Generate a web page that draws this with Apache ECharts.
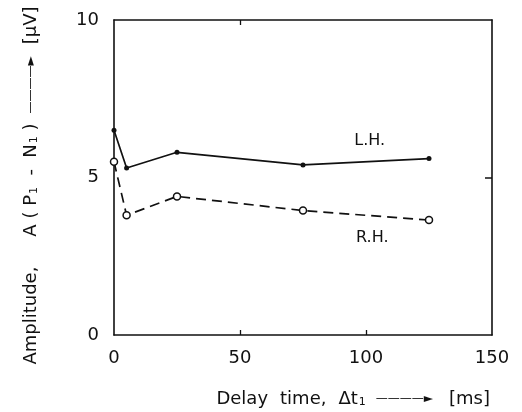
<!DOCTYPE html>
<html>
<head>
<meta charset="utf-8">
<script src="https://cdn.jsdelivr.net/npm/echarts@6/dist/echarts.min.js"></script>
<style>html,body{margin:0;padding:0;background:#fff;}#c{width:522px;height:412px;}</style>
</head>
<body>
<div id="c"></div>
<script>
const delayTime = [0, 5, 25, 75, 125];
const lhAmplitude = [6.5, 5.3, 5.8, 5.4, 5.6];
const rhAmplitude = [5.5, 3.8, 4.4, 3.95, 3.65];
const xTickLabels = [0, 50, 100, 150];
const yTickLabels = [0, 5, 10];
const seriesNames = ['L.H.', 'R.H.'];
const labelAnchors = [[101.5, 6.15], [102.5, 3.1]];

const FONT = 'DejaVu Sans';
const ink = '#111';
const chart = echarts.init(document.getElementById('c'), null, {renderer: 'canvas'});

const pairs = (xs, ys) => xs.map((x, i) => [x, ys[i]]);

const nameRich = {
  n: {fontFamily: FONT, fontSize: 18, color: ink},
  s: {fontFamily: FONT, fontSize: 11, color: ink, verticalAlign: 'bottom', padding: [7, 0, 0, 1]},
  a: {fontFamily: FONT, fontSize: 12, color: ink},
  g10: {width: 10}, g12: {width: 12}, g16: {width: 16}, g30: {width: 30}
};

chart.setOption({
  backgroundColor: '#fff',
  animation: false,
  grid: {left: 114, right: 30, top: 20, bottom: 77},
  xAxis: [{
    type: 'value', min: 0, max: 150, interval: 50, position: 'bottom',
    axisLine: {show: true, onZero: false, lineStyle: {color: ink, width: 1.6}},
    axisTick: {show: true, inside: true, length: 5, customValues: [50, 100], lineStyle: {color: ink, width: 1.3}},
    axisLabel: {color: ink, fontFamily: FONT, fontSize: 18, margin: 14, customValues: xTickLabels},
    splitLine: {show: false},
    name: '{n|Delay}{g12| }{n|time,}{g12| }{n|Δt}{s|1}{g10| }{a|————►}{g16| }{n|[ms]}',
    nameLocation: 'end', nameGap: -2,
    nameTextStyle: {align: 'right', verticalAlign: 'top', padding: [55, 0, 0, 0], rich: nameRich}
  }, {
    type: 'value', min: 0, max: 150, interval: 50, position: 'top',
    axisLine: {show: true, onZero: false, lineStyle: {color: ink, width: 1.6}},
    axisTick: {show: true, inside: true, length: 5, customValues: [50], lineStyle: {color: ink, width: 1.3}},
    axisLabel: {show: false}, splitLine: {show: false}
  }],
  yAxis: [{
    type: 'value', min: 0, max: 10, interval: 5, position: 'left',
    axisLine: {show: true, onZero: false, lineStyle: {color: ink, width: 1.6}},
    axisTick: {show: false},
    axisLabel: {color: ink, fontFamily: FONT, fontSize: 18, margin: 15, customValues: yTickLabels},
    splitLine: {show: false},
    name: '{n|Amplitude,}{g30| }{n|A ( P}{s|1}{n|  -  N}{s|1}{n| )}{g10| }{a|————►}{g12| }{n|[μV]}',
    nameLocation: 'middle', nameGap: 74, nameRotate: 90,
    nameTextStyle: {padding: [0, 16, 0, 0], rich: nameRich}
  }, {
    type: 'value', min: 0, max: 10, interval: 5, position: 'right',
    axisLine: {show: true, onZero: false, lineStyle: {color: ink, width: 1.6}},
    axisTick: {show: true, inside: true, length: 7, customValues: [5], lineStyle: {color: ink, width: 1.5}},
    axisLabel: {show: false}, splitLine: {show: false}
  }],
  series: [{
    name: seriesNames[0], type: 'line', xAxisIndex: 0, yAxisIndex: 0,
    data: pairs(delayTime, lhAmplitude),
    symbol: 'circle', symbolSize: 5,
    itemStyle: {color: ink, borderColor: ink, borderWidth: 0},
    lineStyle: {color: ink, width: 1.7, type: 'solid'},
    markPoint: {
      symbol: 'circle', symbolSize: 0,
      label: {show: true, position: 'inside', formatter: '{b}', color: ink, fontFamily: FONT, fontSize: 16},
      data: [{name: seriesNames[0], coord: labelAnchors[0]}]
    }
  }, {
    name: seriesNames[1], type: 'line', xAxisIndex: 0, yAxisIndex: 0,
    data: pairs(delayTime, rhAmplitude),
    symbol: 'circle', symbolSize: 7,
    itemStyle: {color: '#fff', borderColor: ink, borderWidth: 1.5},
    lineStyle: {color: ink, width: 1.7, type: [10, 6]},
    markPoint: {
      symbol: 'circle', symbolSize: 0,
      label: {show: true, position: 'inside', formatter: '{b}', color: ink, fontFamily: FONT, fontSize: 16},
      data: [{name: seriesNames[1], coord: labelAnchors[1]}]
    }
  }]
});
</script>
</body>
</html>
